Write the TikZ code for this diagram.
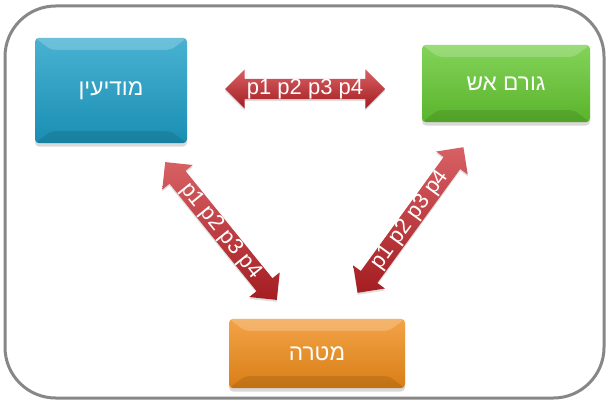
\documentclass[tikz,border=0pt]{standalone}
\usepackage{fontspec}
\setmainfont{Liberation Sans}
\newfontfamily\hebfont[Script=Hebrew]{Liberation Sans}
\TeXXeTstate=1
\usepackage{tikz}
\usetikzlibrary{shapes.arrows}
\usetikzlibrary{shadows}
\definecolor{intelblue}{RGB}{28,158,198}
\definecolor{firegreen}{RGB}{100,200,48}
\definecolor{targetorange}{RGB}{240,140,25}
\definecolor{linkred}{RGB}{200,35,40}
\definecolor{framegray}{RGB}{135,135,135}
\tikzset{
    frame/.style = {draw=framegray,line width=2.25pt,rounded corners=38pt},
    unit/.style = {rectangle,rounded corners=3pt,inner sep=0,text=white,
        font=\hebfont\fontsize{17}{17}\selectfont,
        top color=#1!80!white,bottom color=#1!90!black,
        drop shadow={shadow xshift=0pt,shadow yshift=-2.5pt,opacity=0.3},
        path picture={
            \fill[white,opacity=0.2] (path picture bounding box.north west)
                -- (path picture bounding box.north east) -- ++(-12pt,-9pt)
                -- ([shift={(12pt,-9pt)}]path picture bounding box.north west) -- cycle;
            \fill[black,opacity=0.1] (path picture bounding box.south west)
                -- (path picture bounding box.south east) -- ++(-12pt,9pt)
                -- ([shift={(12pt,9pt)}]path picture bounding box.south west) -- cycle;
        }},
    link/.style = {double arrow,double arrow head extend=7pt,
        inner xsep=2pt,inner ysep=0pt,text=white,
        font=\fontsize{16.5}{16.5}\selectfont,
        top color=linkred!72!white,bottom color=linkred!82!black,
        drop shadow={shadow xshift=0pt,shadow yshift=-1.5pt,opacity=0.25}}
}
\begin{document}
\begin{tikzpicture}[x=0.75pt,y=-0.75pt]
        \useasboundingbox (0,0) rectangle (609,403);
        % Frame
        \draw[frame] (5,6) rectangle (604,398);
        % Units
        \path (111,90.5) node[unit=intelblue,
                minimum width=114pt,minimum height=79pt] (intel) {\beginR מודיעין\endR}
            (506,83.5) node[unit=firegreen,
                minimum width=126pt,minimum height=58pt] (fire) {\beginR גורם אש\endR}
            (317,353.5) node[unit=targetorange,
                minimum width=132pt,minimum height=52pt] (target) {\beginR מטרה\endR}
        ;
        % Links
        \foreach \name/\pos/\ang/\len in {lIF/{(305,89)}/0/120,
                lIT/{(221,231)}/-51/133,lTF/{(410.5,220)}/54/135}
            \path \pos node[link,rotate=\ang,minimum height=\len pt] (\name) {p1 p2 p3 p4};
    \end{tikzpicture}
\end{document}
